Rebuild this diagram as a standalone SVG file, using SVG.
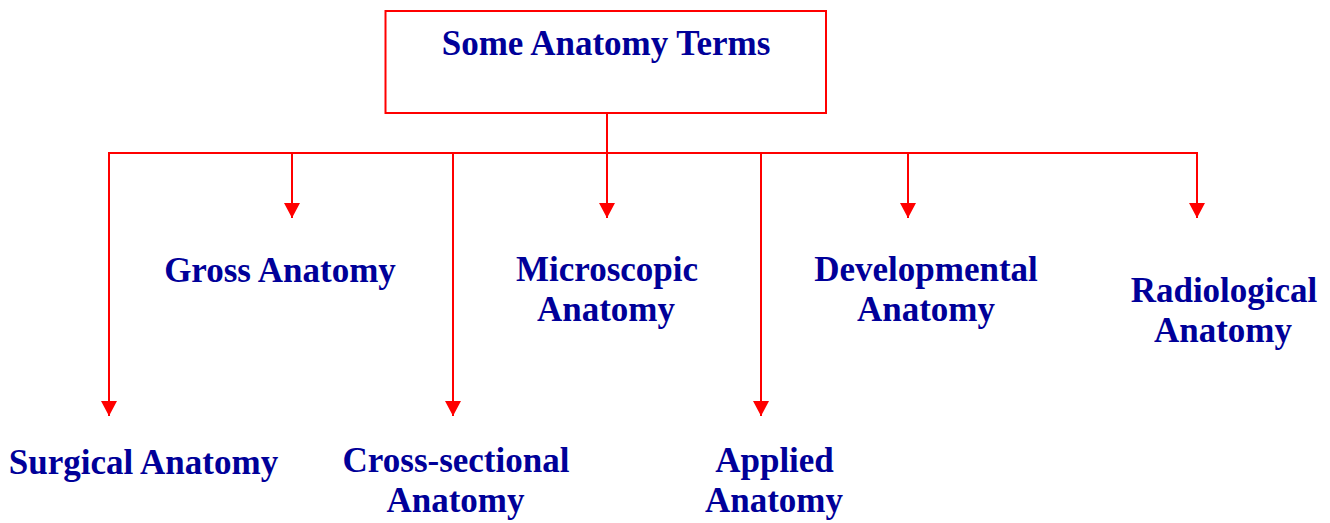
<svg xmlns="http://www.w3.org/2000/svg" width="1330" height="523" viewBox="0 0 1330 523">
  <style>
    .lbl { font-family: "Liberation Serif", "Times New Roman", serif; font-weight: bold; font-size: 35px; fill: #000099; text-anchor: middle; }
    .box { fill: #ffffff; stroke: #ff0000; stroke-width: 2; }
    .wire { fill: none; stroke: #ff0000; stroke-width: 2; }
  </style>
  <defs>
    <marker id="arrow" markerUnits="userSpaceOnUse" markerWidth="16" markerHeight="16" viewBox="0 0 16 16" refX="15" refY="8" orient="auto">
      <path d="M0,0 L15,8 L0,16 Z" fill="#ff0000"/>
    </marker>
  </defs>
  <rect width="1330" height="523" fill="#ffffff"/>

  <g id="root">
    <rect class="box" x="385.5" y="11" width="440.5" height="102"/>
    <text class="lbl" x="606" y="55">Some Anatomy Terms</text>
  </g>

  <g id="connectors">
    <line class="wire" x1="607" y1="113" x2="607" y2="153"/>
    <line class="wire" x1="108" y1="153" x2="1198" y2="153"/>
    <line class="wire" x1="109" y1="153" x2="109" y2="416" marker-end="url(#arrow)"/>
    <line class="wire" x1="292" y1="153" x2="292" y2="218" marker-end="url(#arrow)"/>
    <line class="wire" x1="453" y1="153" x2="453" y2="416" marker-end="url(#arrow)"/>
    <line class="wire" x1="607" y1="153" x2="607" y2="218" marker-end="url(#arrow)"/>
    <line class="wire" x1="761" y1="153" x2="761" y2="416" marker-end="url(#arrow)"/>
    <line class="wire" x1="908" y1="153" x2="908" y2="218" marker-end="url(#arrow)"/>
    <line class="wire" x1="1197" y1="153" x2="1197" y2="218" marker-end="url(#arrow)"/>
  </g>

  <g id="gross">
    <text class="lbl" x="280" y="282">Gross Anatomy</text>
  </g>
  <g id="microscopic">
    <text class="lbl" x="607" y="281">Microscopic</text>
    <text class="lbl" x="606" y="321">Anatomy</text>
  </g>
  <g id="developmental">
    <text class="lbl" x="926" y="281">Developmental</text>
    <text class="lbl" x="926" y="321">Anatomy</text>
  </g>
  <g id="radiological">
    <text class="lbl" x="1224" y="302">Radiological</text>
    <text class="lbl" x="1223" y="342">Anatomy</text>
  </g>
  <g id="surgical">
    <text class="lbl" x="143.5" y="474">Surgical Anatomy</text>
  </g>
  <g id="cross-sectional">
    <text class="lbl" x="456" y="472">Cross-sectional</text>
    <text class="lbl" x="455.5" y="512">Anatomy</text>
  </g>
  <g id="applied">
    <text class="lbl" x="774.5" y="472">Applied</text>
    <text class="lbl" x="774" y="512">Anatomy</text>
  </g>
</svg>
